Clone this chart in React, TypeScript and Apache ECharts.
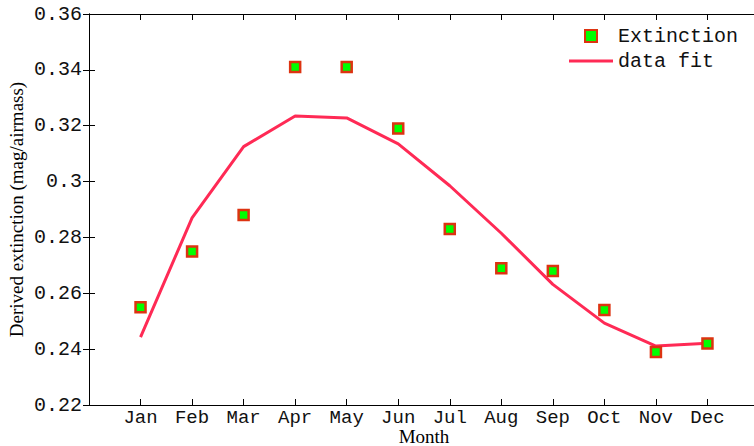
import React, { useEffect, useRef } from "react";
import * as echarts from "echarts";

const months = ["Jan", "Feb", "Mar", "Apr", "May", "Jun", "Jul", "Aug", "Sep", "Oct", "Nov", "Dec"];
const extinction = [0.255, 0.275, 0.288, 0.341, 0.341, 0.319, 0.283, 0.269, 0.268, 0.254, 0.239, 0.242];
const dataFit = [0.2443, 0.287, 0.3125, 0.3235, 0.3228, 0.3135, 0.2985, 0.2815, 0.2632, 0.2493, 0.2411, 0.2421];

const MONO = "'Liberation Mono', 'DejaVu Sans Mono', monospace";
const SERIF = "'Liberation Serif', 'DejaVu Serif', serif";

export default function App() {
  const ref = useRef<HTMLDivElement>(null);
  useEffect(() => {
    if (!ref.current) return;
    const chart = echarts.init(ref.current, null, { renderer: "svg" });
    const axisLine = { show: true, lineStyle: { color: "#000", width: 1 } };
    const tick = { show: true, inside: true, length: 6, lineStyle: { color: "#000", width: 1 } };
    chart.setOption({
      animation: false,
      backgroundColor: "#fff",
      grid: { left: 89, right: 11, top: 14, bottom: 41, containLabel: false, outerBoundsMode: "none" },
      legend: {
        orient: "vertical",
        left: 569,
        top: 26,
        padding: 0,
        itemWidth: 44,
        itemHeight: 12,
        itemGap: 5,
        symbolKeepAspect: true,
        textStyle: { fontFamily: MONO, fontSize: 20, lineHeight: 14, color: "#111" },
        data: [
          { name: "Extinction", icon: "path://M0,0h10v10h-10z" },
          { name: "data fit", icon: "path://M0,0h44v3h-44z" },
        ],
      },
      xAxis: [
        {
          type: "value",
          min: 0,
          max: 13,
          interval: 1,
          name: "Month",
          nameLocation: "middle",
          nameGap: 24,
          nameMoveOverlap: false,
          nameTextStyle: { fontFamily: SERIF, fontSize: 19, lineHeight: 14, color: "#000" },
          axisLine,
          axisTick: tick,
          splitLine: { show: false },
          axisLabel: {
            margin: 6,
            fontFamily: MONO,
            fontSize: 19,
            lineHeight: 14,
            color: "#111",
            formatter: (v: number) => (v >= 1 && v <= 12 ? months[v - 1] : ""),
          },
        },
        {
          type: "value",
          position: "top",
          min: 0,
          max: 13,
          interval: 1,
          axisLine,
          axisTick: tick,
          axisLabel: { show: false },
          splitLine: { show: false },
        },
      ],
      yAxis: [
        {
          type: "value",
          min: 0.22,
          max: 0.36,
          interval: 0.02,
          name: "Derived extinction (mag/airmass)",
          nameLocation: "middle",
          nameGap: 63,
          nameMoveOverlap: false,
          nameTextStyle: { fontFamily: SERIF, fontSize: 19, color: "#000" },
          axisLine,
          axisTick: tick,
          splitLine: { show: false },
          axisLabel: {
            margin: 7,
            fontFamily: MONO,
            fontSize: 20,
            color: "#111",
            formatter: (v: number) => String(parseFloat(v.toFixed(2))),
          },
        },
        {
          type: "value",
          position: "right",
          min: 0.22,
          max: 0.36,
          interval: 0.02,
          axisLine,
          axisTick: tick,
          axisLabel: { show: false },
          splitLine: { show: false },
        },
      ],
      series: [
        {
          name: "data fit",
          type: "line",
          data: dataFit.map((v, i) => [i + 1, v]),
          symbol: "none",
          showSymbol: false,
          lineStyle: { color: "#ff2a55", width: 3 },
          itemStyle: { color: "#ff2a55" },
          z: 2,
        },
        {
          name: "Extinction",
          type: "scatter",
          data: extinction.map((v, i) => [i + 1, v]),
          symbol: "rect",
          symbolSize: 10,
          itemStyle: { color: "#00ff00", borderColor: "#dd3311", borderWidth: 2.5, opacity: 1 },
          z: 3,
        },
      ],
    });
    return () => chart.dispose();
  }, []);
  return (
    <div style={{ position: "absolute", left: 0, top: 0, width: 754, height: 446, overflow: "hidden", background: "#fff" }}>
      <div ref={ref} style={{ width: 770, height: 446 }} />
    </div>
  );
}
